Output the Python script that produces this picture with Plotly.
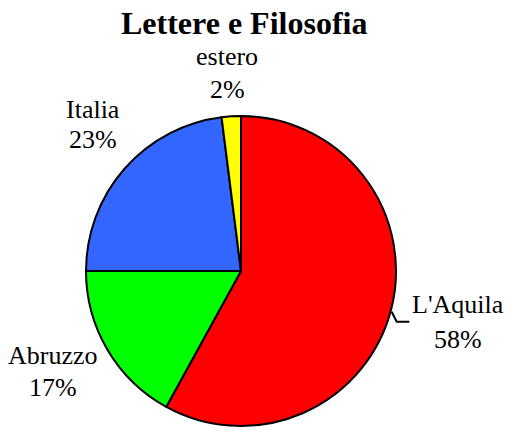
import plotly.graph_objects as go

# Share of students by origin
labels = ["L'Aquila", "Abruzzo", "Italia", "estero"]
values = [58, 17, 23, 2]
colors = ["#FF0000", "#00FF00", "#3366FF", "#FFFF00"]

W, H = 509, 428
cx, cy, r = 241, 271, 155  # pie centre and radius in px

def px(x):
    return x / W

def py(y):
    return 1 - y / H

fig = go.Figure(
    go.Pie(
        labels=labels,
        values=values,
        sort=False,
        direction="clockwise",
        rotation=0,
        marker=dict(colors=colors, line=dict(color="black", width=2)),
        textinfo="none",
        hoverinfo="label+percent",
        showlegend=False,
        domain=dict(x=[px(cx - r), px(cx + r)], y=[py(cy + r), py(cy - r)]),
    )
)

serif = "Liberation Serif"
font = dict(family=serif, size=26, color="black")

# label positions (px): name line, percent line
label_pos = {
    "L'Aquila": (458, 304, 339),
    "Abruzzo": (53, 355, 387),
    "Italia": (93, 109, 140),
    "estero": (227, 56, 90),
}
total = sum(values)
for lab, val in zip(labels, values):
    x, y1, y2 = label_pos[lab]
    pct = round(100 * val / total)
    for txt, yy in ((lab, y1), (f"{pct}%", y2)):
        fig.add_annotation(
            x=px(x), y=py(yy), xref="paper", yref="paper",
            text=txt, showarrow=False, xanchor="center", yanchor="middle",
            font=font,
        )

# leader line for L'Aquila
pts = [(391.7, 311.7), (396.7, 321.7), (409.3, 321.7)]
path = "M " + " L ".join(f"{px(a)} {py(b)}" for a, b in pts)
fig.add_shape(type="path", path=path, xref="paper", yref="paper",
              line=dict(color="black", width=2))

fig.add_annotation(
    x=px(244), y=py(23), xref="paper", yref="paper",
    text="<b>Lettere e Filosofia</b>", showarrow=False,
    xanchor="center", yanchor="middle",
    font=dict(family=serif, size=32, color="black"),
)

fig.update_layout(
    width=W, height=H,
    margin=dict(l=0, r=0, t=0, b=0),
    paper_bgcolor="white",
    plot_bgcolor="white",
)

fig.write_html("out.html")
